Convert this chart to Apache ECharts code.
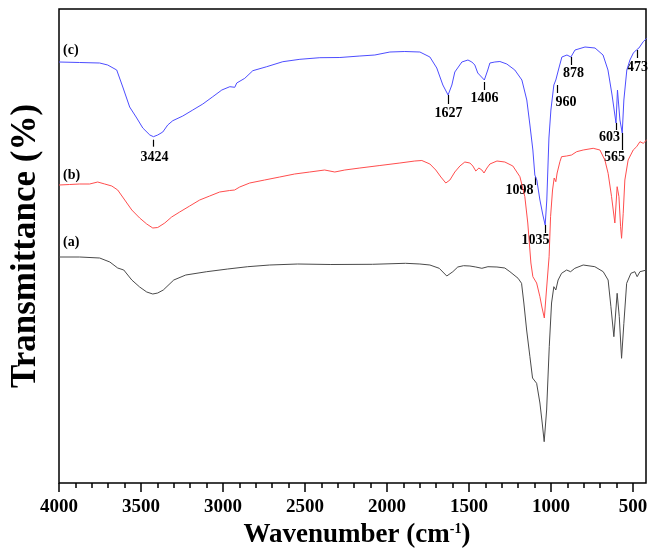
<!DOCTYPE html>
<html lang="en">
<head>
    <meta charset="UTF-8">
    <title>FTIR</title>
    <script src="https://cdn.jsdelivr.net/npm/echarts@6/dist/echarts.min.js"></script>
    <style>
        html, body { margin: 0; padding: 0; background: #fff; }
        #chart { width: 649px; height: 550px; }
    </style>
</head>
<body>
<div id="chart"></div>
<script>
    // wavenumbers (cm-1) and transmittance (arbitrary, curves offset)
    var wnA = [4000,3874,3752,3690,3642,3605,3556,3508,3465,3428,3398,3364,3300,3227,3099,2971,2849,2715,2544,2342,2089,1887,1799,1738,1681,1653,1635,1598,1568,1533,1494,1458,1421,1384,1329,1281,1250,1200,1179,1165,1148,1128,1112,1087,1067,1053,1041,1026,1010,996,982,970,956,935,904,880,854,803,732,681,651,634,616,596,583,569,555,538,512,488,474,457,416];
    var tA = [226,226,225,221,215,213,203,196,191,189,190,193,203,208,211.3,214,216.3,218,219,218.5,218.7,219.7,219,218,214.7,210,207,211.3,216,217.3,217,216,214.7,216.3,216,215,211.3,204.7,199.7,180,153,126.3,105,99.7,80,60,41.3,73,136.3,180,196.3,193,203,209.7,213,211.3,214.7,218,216.3,211.3,203,176.3,146.3,189.7,166.3,124.7,159.7,199.7,209.7,211.3,206.3,211.3,213];

    var wnB = [4000,3935,3874,3813,3764,3721,3678,3642,3599,3556,3508,3465,3428,3398,3355,3313,3264,3203,3142,3081,3020,2959,2929,2898,2837,2746,2654,2563,2471,2380,2318,2257,2165,2043,1921,1830,1787,1738,1702,1671,1641,1616,1586,1555,1525,1494,1476,1458,1439,1421,1408,1390,1372,1329,1281,1232,1189,1159,1141,1122,1110,1087,1067,1055,1040,1027,1011,1002,990,980,970,962,945,935,904,874,843,803,742,701,671,651,630,610,596,585,575,569,559,549,529,498,477,457,437,416];
    var tB = [298,298.5,299,299,301,299,297,293,283,273,265,259,255,255.5,260,266,271,277,283,287,291,292.5,293,296,300,303,306,309,311,313,311,313,315,317.5,320,322,322.5,319,313,306,300,303,311,317,321,320,317,312,315,313,310,315,319,322,321,317,306.3,286.3,260,220,206.3,200,186.3,176,165,193,226.3,266.3,293,305,301.3,310,321.3,326.3,327,328,331.3,333,334.7,333,323,309.7,286.3,260,296.3,286.3,256.3,244.7,269.7,303,323,333,336.3,341.3,339.7,343];

    var wnC = [4000,3874,3752,3703,3648,3611,3569,3526,3489,3446,3424,3398,3367,3337,3306,3245,3184,3123,3062,3007,2958,2928,2916,2867,2855,2818,2733,2635,2531,2409,2287,2165,2074,1982,1891,1799,1738,1696,1659,1627,1604,1586,1543,1506,1482,1464,1446,1406,1385,1372,1342,1311,1269,1220,1177,1147,1128,1110,1098,1086,1067,1049,1035,1025,1012,1000,982,970,960,951,933,902,878,853,792,731,682,652,627,603,594,579,565,555,537,518,497,479,473,463,437,416];
    var tC = [421,420.5,420,418,413,396,376,365,355,348,346.3,348,351,358,362.3,367,373,379,386.3,393,396.3,395.7,400,404.7,405.7,412.3,416.3,421.3,423.7,425.3,425.5,427,428,431,431.5,431,426,415,398,388,398,411,421,423,421,418,410,403,413,420,421,421.5,419,413,403,383,358,333,308,303,283,268,258,283,345,373,398,403,401,415,426,428,426,433,436,435,428,413,388,360,393,363,350,383,413,423,430,433,432,435,441.3,444.7];

    var peaksC = [3424, 1627, 1406, 1098, 1035, 960, 878, 603, 565, 473];
    var curveNames = ['(a)', '(b)', '(c)'];
    var majorTicks = [4000, 3500, 3000, 2500, 2000, 1500, 1000, 500];
    var minorTicks = [];
    for (var w = 4000; w >= 500; w -= 100) minorTicks.push(w);

    // label placement for the peak marks (pixels)
    var peakStyle = {
        3424: { gap: 3, len: 7, dy: 11, dx: 1 },
        1627: { gap: 0, len: 9, dy: 9 },
        1406: { gap: 2, len: 8, dy: 8 },
        1098: { gap: 2, len: 8, dy: 5, dx: -2, align: 'right' },
        1035: { gap: 0, len: 8, dy: 7, dx: -10 },
        960:  { gap: 3, len: 8, dy: 9, dx: -2, align: 'left' },
        878:  { gap: 0, len: 8, dy: 8, dx: 2 },
        603:  { gap: 0, len: 7, dy: 7, dx: -7 },
        565:  { gap: 0, len: 17, dy: 7, dx: -8 },
        473:  { gap: -1, len: 8, dy: 9 }
    };
    var nameOffset = [-15, -10, -12];

    var serif = 'Liberation Serif';
    function pairs(xs, ys) {
        return xs.map(function (x, i) { return [x, ys[i]]; });
    }

    var chart = echarts.init(document.getElementById('chart'));
    var option = {
        animation: false,
        grid: {
            left: 59, right: 3, top: 9, bottom: 67, containLabel: false, outerBoundsMode: 'none',
            show: true, borderColor: '#000', borderWidth: 1.5
        },
        xAxis: [{
            type: 'value', min: 420, max: 4000, inverse: true, position: 'bottom',
            axisLine: { show: false },
            axisTick: { show: true, customValues: majorTicks, length: 9, lineStyle: { color: '#000', width: 1.5 } },
            axisLabel: {
                customValues: majorTicks, margin: 15, color: '#000', fontFamily: serif, fontWeight: 'bold', fontSize: 19,
                formatter: function (v) { return String(v); }
            },
            splitLine: { show: false },
            name: 'Wavenumber (cm{sup|-1})', nameLocation: 'middle', nameGap: 38,
            nameTextStyle: {
                color: '#000', fontFamily: serif, fontWeight: 'bold', fontSize: 27, padding: [0, 0, 0, 9],
                rich: { sup: { color: '#000', fontFamily: serif, fontWeight: 'bold', fontSize: 14, verticalAlign: 'top' } }
            }
        }, {
            type: 'value', min: 420, max: 4000, inverse: true, position: 'bottom',
            axisLine: { show: false },
            axisTick: { show: true, customValues: minorTicks, length: 5, lineStyle: { color: '#000', width: 1.5 } },
            axisLabel: { show: false },
            splitLine: { show: false }
        }],
        yAxis: {
            type: 'value', min: 0, max: 474,
            axisLine: { show: false }, axisTick: { show: false }, axisLabel: { show: false },
            splitLine: { show: false },
            name: 'Transmittance (%)', nameLocation: 'middle', nameRotate: 90, nameGap: 16,
            nameTextStyle: { color: '#000', fontFamily: serif, fontWeight: 'bold', fontSize: 35 }
        },
        series: [
            { type: 'line', data: pairs(wnA, tA), showSymbol: false, lineStyle: { color: '#4a4a4a', width: 1 } },
            { type: 'line', data: pairs(wnB, tB), showSymbol: false, lineStyle: { color: '#ff4d4d', width: 1 } },
            { type: 'line', data: pairs(wnC, tC), showSymbol: false, lineStyle: { color: '#4d4dff', width: 1 } }
        ]
    };
    chart.setOption(option);

    // peak marks and curve names, placed through the chart's own scales
    var g = [];
    peaksC.forEach(function (p) {
        var s = Object.assign({ gap: 0, len: 8, dy: 8, dx: 0, align: 'center' }, peakStyle[p]);
        var pt = chart.convertToPixel({ seriesIndex: 2 }, [p, tC[wnC.indexOf(p)]]);
        var x = Math.round(pt[0]) + 0.5;
        var y1 = pt[1] + s.gap, y2 = y1 + s.len;
        g.push({ type: 'line', silent: true, shape: { x1: x, y1: y1, x2: x, y2: y2 }, style: { stroke: '#000', lineWidth: 1.2 } });
        g.push({ type: 'text', silent: true, x: x + s.dx, y: y2 + s.dy, style: {
            text: String(p), font: 'bold 14px "' + serif + '"', fill: '#000',
            textAlign: s.align, align: s.align, textVerticalAlign: 'middle', verticalAlign: 'middle'
        } });
    });
    [tA, tB, tC].forEach(function (ys, i) {
        var wx = [wnA, wnB, wnC][i];
        var pt = chart.convertToPixel({ seriesIndex: i }, [wx[0], ys[0]]);
        g.push({ type: 'text', silent: true, x: pt[0] + 4, y: pt[1] + nameOffset[i], style: {
            text: curveNames[i], font: 'bold 14px "' + serif + '"', fill: '#000',
            textAlign: 'left', align: 'left', textVerticalAlign: 'middle', verticalAlign: 'middle'
        } });
    });
    chart.setOption({ graphic: g });
</script>
</body>
</html>
